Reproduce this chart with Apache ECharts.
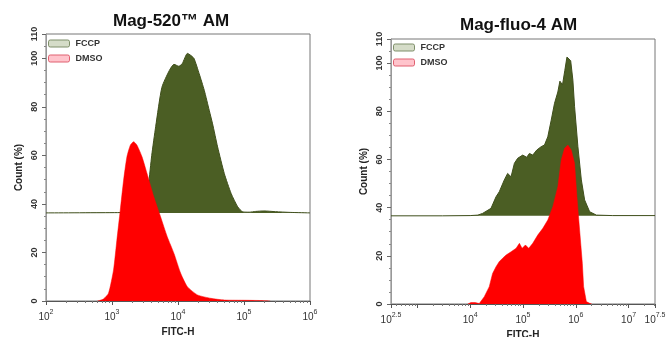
<!DOCTYPE html>
<html>
<head>
<meta charset="utf-8">
<script src="https://cdn.jsdelivr.net/npm/echarts@6/dist/echarts.min.js"></script>
<style>
html,body{margin:0;padding:0;background:#fff;}
#c{width:668px;height:337px;}
</style>
</head>
<body>
<div id="c"></div>
<script>
// ---- data ----
const titles = ['Mag-520\u2122 AM', 'Mag-fluo-4 AM'];
const seriesNames = ['FCCP', 'DMSO'];
const yTickLabels = [0, 20, 40, 60, 80, 100, 110];

// Left panel (Mag-520 AM)
const leftFccpX = [100, 1000, 2500, 3400, 3600, 4000, 4600, 5700, 7400, 8700, 10300, 11600, 13900, 15600, 17500, 20900, 25000, 29700, 33400, 39800, 50300, 63800, 80300, 96000, 120000, 150000, 200000, 300000, 500000, 1000000];
const leftFccpY = [36.3, 36.4, 36.5, 36.7, 48, 60, 72, 88, 95, 97.5, 96.7, 97.8, 102, 101.2, 99.9, 93.7, 86.8, 78.6, 73, 63.5, 52.5, 44.3, 38.8, 36.7, 36.6, 36.9, 37.1, 36.8, 36.5, 36.3];
const leftFccpBase = 36.3;
const leftDmsoX = [600, 661, 741, 885, 1055, 1184, 1334, 1499, 1683, 1897, 2129, 2391, 2851, 3396, 4302, 5445, 6871, 8690, 10990, 13870, 19720, 31550, 50350, 108000, 173000, 250000];
const leftDmsoY = [0, 0.3, 0.8, 3.2, 12.8, 25, 37.4, 49.8, 59.4, 64.2, 65.6, 64.2, 59.4, 52.5, 42.9, 34.7, 26.5, 19.6, 11.4, 5.9, 2.5, 1.1, 0.4, 0.3, 0.2, 0];

// Right panel (Mag-fluo-4 AM)
const rightFccpX = [316.23, 3000, 10000, 14000, 17140, 24770, 30830, 35560, 44260, 51170, 59430, 68700, 79300, 98700, 117500, 132400, 152900, 182100, 220600, 255200, 294800, 342300, 395300, 456900, 500000, 560000, 620000, 680000, 740000, 800000, 880700, 948000, 1096000, 1273000, 1469000, 1829000, 2452000, 5000000, 31622777];
const rightFccpY = [36.6, 36.6, 36.7, 36.9, 37.6, 39.7, 44.5, 46.6, 51.5, 54.2, 52.8, 58.4, 60.5, 61.8, 60.9, 62.5, 61.8, 63.9, 65.3, 66, 69.4, 76.3, 83.3, 88, 92.5, 91, 97, 102.5, 103, 101, 92.9, 81.9, 65.3, 51.5, 43.2, 38.3, 36.9, 36.7, 36.7];
const rightFccpBase = 36.6;
const rightDmsoX = [9000, 10310, 12450, 14840, 15970, 18450, 22960, 26550, 30830, 35560, 41110, 47740, 59430, 73960, 85510, 96170, 111200, 128400, 152900, 190100, 237100, 295000, 367200, 457000, 529800, 612400, 707200, 820300, 948000, 1050000, 1181000, 1330000, 1407000, 1585000, 1829000, 2000000];
const rightDmsoY = [0, 0.6, 0.6, 0.2, 0.8, 3, 7.2, 12.7, 15.5, 17.6, 19, 20.3, 21.7, 23.1, 25.2, 23.1, 24.5, 23.1, 25.2, 28.6, 31.4, 34.9, 40.4, 48.7, 59.8, 64.6, 66, 63.9, 58.4, 44.5, 30.7, 16.9, 7.2, 1, 0.3, 0];

// ---- chart ----
function zip(xs, ys) { return xs.map((x, i) => [x, ys[i]]); }
const FONT = 'Liberation Sans, Arial, sans-serif';
const green = '#4b5e24';
const red = '#ff0000';

function supFormatter(skip) {
  return function (v) {
    const e = Math.round(Math.log10(v) * 10) / 10;
    if (skip.indexOf(e) >= 0) return '';
    return '{b|10}{s|' + e + '}';
  };
}
const supRich = {
  b: { fontSize: 10, color: '#333', fontFamily: FONT, verticalAlign: 'bottom' },
  s: { fontSize: 7, color: '#333', fontFamily: FONT, verticalAlign: 'bottom', padding: [0, 0, 6, 0] }
};

function xAxisFor(gi, min, max, skip) {
  return {
    type: 'log', logBase: 10, gridIndex: gi, min: min, max: max,
    name: 'FITC-H', nameLocation: 'middle', nameGap: 24,
    nameTextStyle: { fontFamily: FONT, fontSize: 10, fontWeight: 'bold', color: '#222' },
    axisLine: { lineStyle: { color: '#555', width: 1 } },
    axisTick: { show: true, length: 4, inside: false, lineStyle: { color: '#555' } },
    minorTick: { show: true, splitNumber: 9, length: 2, lineStyle: { color: '#777' } },
    splitLine: { show: false },
    axisLabel: { interval: 0, margin: 8, formatter: supFormatter(skip), rich: supRich, showMinLabel: true, showMaxLabel: true }
  };
}
function yAxisFor(gi) {
  return {
    type: 'value', gridIndex: gi, min: 0, max: 110, interval: 20,
    name: 'Count (%)', nameLocation: 'middle', nameGap: 22,
    nameTextStyle: { fontFamily: FONT, fontSize: 10, fontWeight: 'bold', color: '#222' },
    axisLine: { show: true, lineStyle: { color: '#999', width: 1 } },
    axisTick: { show: true, length: 4, customValues: yTickLabels, lineStyle: { color: '#666' } },
    minorTick: { show: true, splitNumber: 4, length: 2, lineStyle: { color: '#888' } },
    splitLine: { show: false },
    axisLabel: { customValues: yTickLabels, rotate: 90, margin: 7, fontFamily: FONT, fontSize: 9, fontWeight: 'bold', color: '#333' }
  };
}
function legendFor(left, top) {
  return {
    left: left, top: top, orient: 'vertical', itemGap: 6, itemWidth: 21, itemHeight: 7,
    icon: 'roundRect', padding: 0,
    textStyle: { fontFamily: FONT, fontSize: 9, fontWeight: 'bold', color: '#333', padding: [0, 0, 0, 1] },
    data: [
      { name: seriesNames[0], itemStyle: { color: '#d5dcc8', borderColor: '#7f8f6a', borderWidth: 1 } },
      { name: seriesNames[1], itemStyle: { color: '#ffc4cc', borderColor: '#e06070', borderWidth: 1 } }
    ]
  };
}
function fccpSeries(gi, xs, ys, base, smooth) {
  return {
    name: seriesNames[0], type: 'line', xAxisIndex: gi, yAxisIndex: gi,
    data: zip(xs, ys), showSymbol: false, symbol: 'none', smooth: smooth,
    lineStyle: { color: '#3f4f1c', width: 1 },
    itemStyle: { color: green },
    areaStyle: { color: green, opacity: 1, origin: base },
    z: 2, silent: true, animation: false
  };
}
function dmsoSeries(gi, xs, ys, smooth) {
  return {
    name: seriesNames[1], type: 'line', xAxisIndex: gi, yAxisIndex: gi,
    data: zip(xs, ys), showSymbol: false, symbol: 'none', smooth: smooth,
    lineStyle: { color: red, width: 0.5 },
    itemStyle: { color: red },
    areaStyle: { color: red, opacity: 1 },
    z: 3, silent: true, animation: false
  };
}

const chart = echarts.init(document.getElementById('c'), null, { renderer: 'canvas' });
chart.setOption({
  backgroundColor: '#fff',
  animation: false,
  title: [
    { text: titles[0], left: 113, top: 13, padding: 0, textStyle: { fontFamily: FONT, fontSize: 17, fontWeight: 'bold', color: '#111' } },
    { text: titles[1], left: 460, top: 17, padding: 0, textStyle: { fontFamily: FONT, fontSize: 17, fontWeight: 'bold', color: '#111' } }
  ],
  legend: [legendFor(48, 39), legendFor(393, 43)],
  grid: [
    { left: 46, top: 34, width: 264, height: 267, show: true, borderColor: '#777', borderWidth: 1, backgroundColor: 'transparent', outerBoundsMode: 'none', containLabel: false },
    { left: 391, top: 39, width: 264, height: 265, show: true, borderColor: '#777', borderWidth: 1, backgroundColor: 'transparent', outerBoundsMode: 'none', containLabel: false }
  ],
  xAxis: [
    xAxisFor(0, 100, 1000000, []),
    xAxisFor(1, Math.pow(10, 2.5), Math.pow(10, 7.5), [3])
  ],
  yAxis: [yAxisFor(0), yAxisFor(1)],
  series: [
    fccpSeries(0, leftFccpX, leftFccpY, leftFccpBase, 0.2),
    dmsoSeries(0, leftDmsoX, leftDmsoY, 0.2),
    fccpSeries(1, rightFccpX, rightFccpY, rightFccpBase, false),
    dmsoSeries(1, rightDmsoX, rightDmsoY, false)
  ]
});
</script>
</body>
</html>
